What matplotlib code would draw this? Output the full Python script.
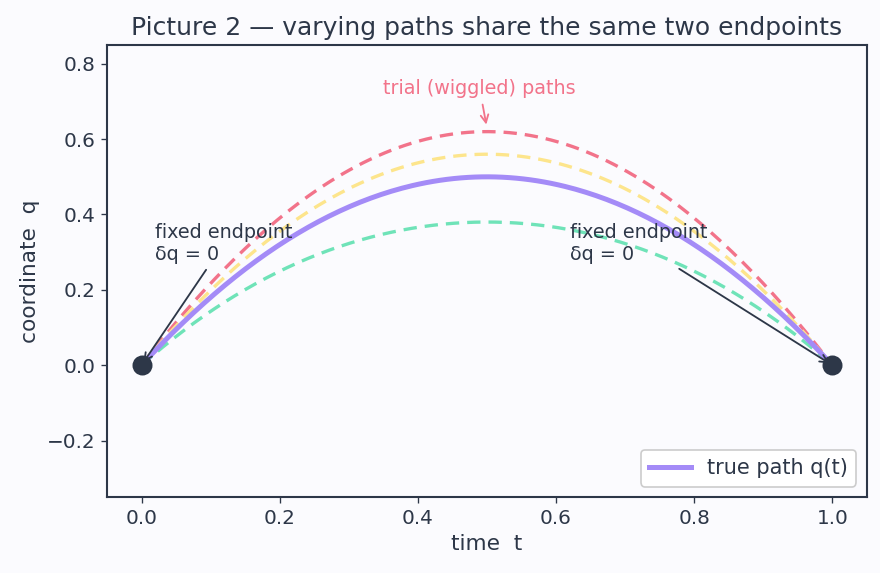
import numpy as np
import matplotlib.pyplot as plt

# endpoints and path peaks
t_ends = [0.0, 1.0]
q_ends = [0.0, 0.0]
true_peak = 0.5
trial_offsets = [0.12, 0.06, -0.12]          # extra height at t=0.5
trial_colors = ['#f2738a', '#fde58c', '#6fe3b8']

ink = '#2d3748'
bg = '#fbfbfe'

t = np.linspace(0, 1, 200)
q_true = 4 * true_peak * t * (1 - t)

fig = plt.figure(figsize=(880 / 120, 573 / 120), dpi=120, facecolor=bg)
ax = fig.add_axes([0.1216, 0.1326, 0.8634, 0.7889], facecolor=bg)

for off, col in zip(trial_offsets, trial_colors):
    ax.plot(t, q_true + off * np.sin(np.pi * t), ls='--', lw=2.0, color=col,
            dashes=(4, 2.4))
ax.plot(t, q_true, color='#a48bf7', lw=3.0, label='true path q(t)')
ax.plot(t_ends, q_ends, 'o', color=ink, ms=11, zorder=5)

ax.annotate('fixed endpoint\nδq = 0', xy=(t_ends[0], q_ends[0]), xytext=(0.02, 0.28),
            fontsize=11.5, color=ink,
            arrowprops=dict(arrowstyle='->', color=ink, lw=1.1))
ax.annotate('fixed endpoint\nδq = 0', xy=(t_ends[1], q_ends[1]), xytext=(0.62, 0.28),
            fontsize=11.5, color=ink,
            arrowprops=dict(arrowstyle='->', color=ink, lw=1.1))
ax.annotate('trial (wiggled) paths', xy=(0.5, 0.63), xytext=(0.35, 0.72),
            fontsize=11.5, color='#f2738a',
            arrowprops=dict(arrowstyle='->', color='#f2738a', lw=1.1))

ax.set_xlim(-0.05, 1.05)
ax.set_ylim(-0.35, 0.85)
ax.set_xticks([0.0, 0.2, 0.4, 0.6, 0.8, 1.0])
ax.set_yticks([-0.2, 0.0, 0.2, 0.4, 0.6, 0.8])
ax.set_xlabel('time  t', fontsize=13, color=ink)
ax.set_ylabel('coordinate  q', fontsize=13, color=ink)
ax.set_title('Picture 2 — varying paths share the same two endpoints', fontsize=15, color=ink)
ax.tick_params(colors=ink, labelsize=12)
for s in ax.spines.values():
    s.set_color(ink)
    s.set_linewidth(1.25)

leg = ax.legend(loc='lower right', fontsize=12.5, framealpha=1)
leg.get_frame().set_edgecolor('#cccccc')
for txt in leg.get_texts():
    txt.set_color(ink)

fig.savefig('out.png', dpi=120, facecolor=bg)
